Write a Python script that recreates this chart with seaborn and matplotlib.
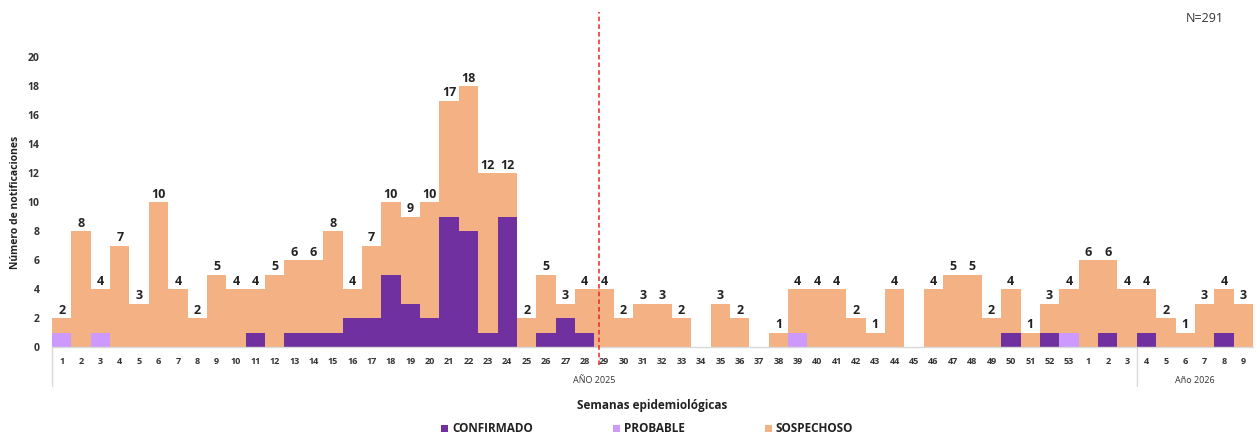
import numpy as np
import pandas as pd
import matplotlib
matplotlib.use("Agg")
import matplotlib.pyplot as plt
from matplotlib.patches import Patch
from matplotlib.lines import Line2D
import seaborn as sns

# Epidemiological weeks: 2025 weeks 1-53, then 2026 weeks 1-9
semanas = [str(w) for w in range(1, 54)] + [str(w) for w in range(1, 10)]

totales = [2, 8, 4, 7, 3, 10, 4, 2, 5, 4,
           4, 5, 6, 6, 8, 4, 7, 10, 9, 10,
           17, 18, 12, 12, 2, 5, 3, 4, 4, 2,
           3, 3, 2, 0, 3, 2, 0, 1, 4, 4,
           4, 2, 1, 4, 0, 4, 5, 5, 2, 4,
           1, 3, 4, 6, 6, 4, 4, 2, 1, 3,
           4, 3]

confirmados = [0, 0, 0, 0, 0, 0, 0, 0, 0, 0,
               1, 0, 1, 1, 1, 2, 2, 5, 3, 2,
               9, 8, 1, 9, 0, 1, 2, 1, 0, 0,
               0, 0, 0, 0, 0, 0, 0, 0, 0, 0,
               0, 0, 0, 0, 0, 0, 0, 0, 0, 1,
               0, 1, 0, 0, 1, 0, 1, 0, 0, 0,
               1, 0]

probables = [1, 0, 1, 0, 0, 0, 0, 0, 0, 0,
             0, 0, 0, 0, 0, 0, 0, 0, 0, 0,
             0, 0, 0, 0, 0, 0, 0, 0, 0, 0,
             0, 0, 0, 0, 0, 0, 0, 0, 1, 0,
             0, 0, 0, 0, 0, 0, 0, 0, 0, 0,
             0, 0, 1, 0, 0, 0, 0, 0, 0, 0,
             0, 0]

sospechosos = [t - c - p for t, c, p in zip(totales, confirmados, probables)]

grupos = ["AÑO 2025", "Año 2026"]
grupo_fin = [56, 62]  # first 56 labels belong to the 2025 block

colores = {"CONFIRMADO": "#7030A0", "PROBABLE": "#CC99FF", "SOSPECHOSO": "#F4B183"}

n = len(semanas)
pos = np.arange(n)
df = pd.concat([
    pd.DataFrame({"pos": pos, "tipo": "CONFIRMADO", "n": confirmados}),
    pd.DataFrame({"pos": pos, "tipo": "PROBABLE", "n": probables}),
    pd.DataFrame({"pos": pos, "tipo": "SOSPECHOSO", "n": sospechosos}),
], ignore_index=True)

sns.set_theme(style="white")
plt.rcParams["font.family"] = ["Open Sans", "DejaVu Sans"]

fig = plt.figure(figsize=(12.57, 4.37), dpi=100)
ax = fig.add_axes([52 / 1257, 1 - 347 / 437, (1253 - 52) / 1257, 290 / 437])

sns.histplot(data=df, x="pos", weights="n", hue="tipo",
             hue_order=["SOSPECHOSO", "PROBABLE", "CONFIRMADO"],
             palette=colores, multiple="stack", discrete=True, shrink=1,
             linewidth=0, alpha=1, legend=False, ax=ax)

ax.set_xlim(-0.5, n - 0.5)
ax.set_ylim(0, 20)
ax.set_yticks(range(0, 21, 2))
ax.set_yticklabels([str(v) for v in range(0, 21, 2)], fontsize=7.5, fontweight="bold", color="#333333")
ax.set_xticks(pos)
ax.set_xticklabels(semanas, fontsize=6.5, fontweight="bold", color="#333333")
ax.tick_params(axis="both", length=0)
ax.tick_params(axis="x", pad=7)
ax.tick_params(axis="y", pad=9)
ax.set_xlabel("")
ax.set_ylabel("Número de notificaciones", fontsize=7.5, fontweight="bold", color="#222222", labelpad=5)
for s in ["top", "right", "left"]:
    ax.spines[s].set_visible(False)
ax.spines["bottom"].set_color("#D9D9D9")
ax.spines["bottom"].set_linewidth(1)

# Totals above each bar
for i, t in enumerate(totales):
    if t > 0:
        ax.text(i, t + 0.55, str(t), ha="center", va="center",
                fontsize=9, fontweight="bold", color="#222222")

# Dashed reference line between weeks 28 and 29
ax.axvline(27.75, ymin=-0.062, ymax=1.155, color="#E8262A", linestyle=(0, (3, 2)),
           linewidth=1.1, clip_on=False, zorder=5)

# Year group brackets under the week labels
trans = ax.get_xaxis_transform()
for xb in [-0.5, grupo_fin[0] - 0.5]:
    ax.add_line(Line2D([xb, xb], [0, -0.135], transform=trans, color="#D9D9D9",
                       linewidth=1, clip_on=False))
inicio = 0
for g, fin in zip(grupos, grupo_fin):
    ax.text((inicio + fin - 1) / 2, -0.115, g, transform=trans, ha="center", va="center",
            fontsize=6.5, color="#333333")
    inicio = fin

fig.text(652 / 1257, 1 - 405 / 437, "Semanas epidemiológicas", ha="center", va="center",
         fontsize=8.5, fontweight="bold", color="#222222")
fig.text(1205 / 1257, 1 - 18 / 437, "N=291", ha="center", va="center",
         fontsize=9, color="#333333")

handles = [Patch(facecolor=colores[k], edgecolor="none", label=k)
           for k in ["CONFIRMADO", "PROBABLE", "SOSPECHOSO"]]
leg = fig.legend(handles=handles, loc="center", bbox_to_anchor=(647 / 1257, 1 - 429 / 437),
                 ncol=3, frameon=False, handlelength=0.6, handleheight=0.6,
                 handletextpad=0.3, columnspacing=6.8,
                 prop={"size": 8.5, "weight": "bold"})
for txt in leg.get_texts():
    txt.set_color("#222222")

fig.savefig("out.png", dpi=100)
